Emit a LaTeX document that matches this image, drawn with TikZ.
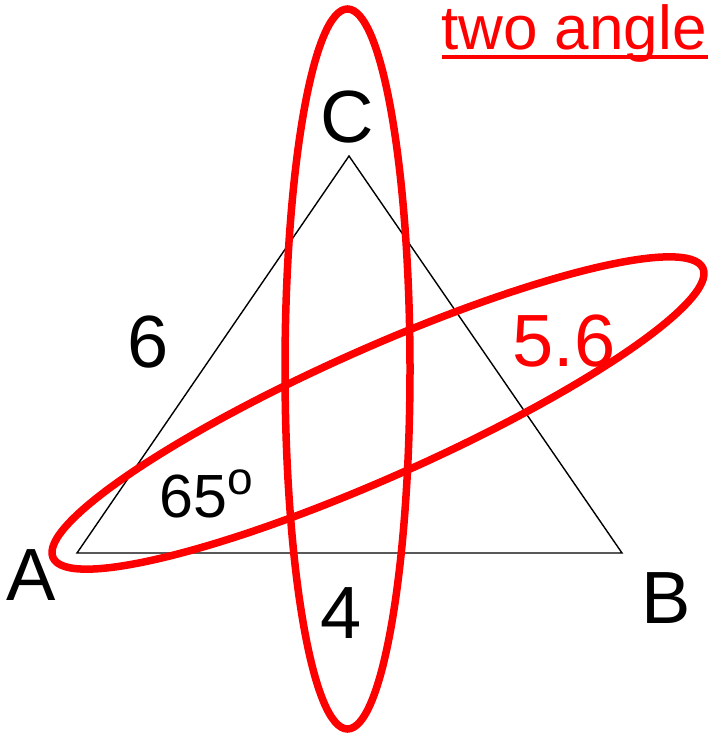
\documentclass[tikz,border=0pt]{standalone}
\usepackage{fontspec}
\setmainfont{Liberation Sans}
\begin{document}
\begin{tikzpicture}[x=1pt,y=-1pt,
  lbl/.style={inner sep=0pt,anchor=base,font=\fontsize{74}{74}\selectfont},
  ring/.style={draw=red,line width=7.5pt},
  tri/.style={draw=black,line width=1.4pt,line join=miter}]
\useasboundingbox (0,0) rectangle (711,735);
\coordinate (A) at (77,553);
\coordinate (B) at (622,553);
\coordinate (C) at (349,156);
\draw[tri] (A) -- (B) -- (C) -- cycle;
\draw[ring] (347.5,369) ellipse [x radius=62.5, y radius=360];
\draw[ring] (378,413) ellipse [x radius=355.7, y radius=64.2, rotate=24];
\node[lbl] (lC) at (347,143) {C};
\node[lbl] (lA) at (31,600) {A};
\node[lbl] (lB) at (666,623) {B};
\node[lbl] (l6) at (148.5,367) {6};
\node[lbl] (l4) at (341,638) {4};
\node[lbl,text=red] (l56) at (564,366) {5.6};
\node[inner sep=0pt,anchor=base west,font=\fontsize{61}{61}\selectfont] (l65) at (159.5,517) {65\raisebox{22.5pt}{\fontsize{46}{46}\selectfont o}};
\node[inner sep=0pt,anchor=base west,text=red,font=\fontsize{62}{62}\selectfont] (title) at (441,50) {two angle};
\coordinate (u1) at (442,57);
\coordinate (u2) at (708,57);
\draw[red,line width=4.5pt] (u1) -- (u2);
\end{tikzpicture}
\end{document}
